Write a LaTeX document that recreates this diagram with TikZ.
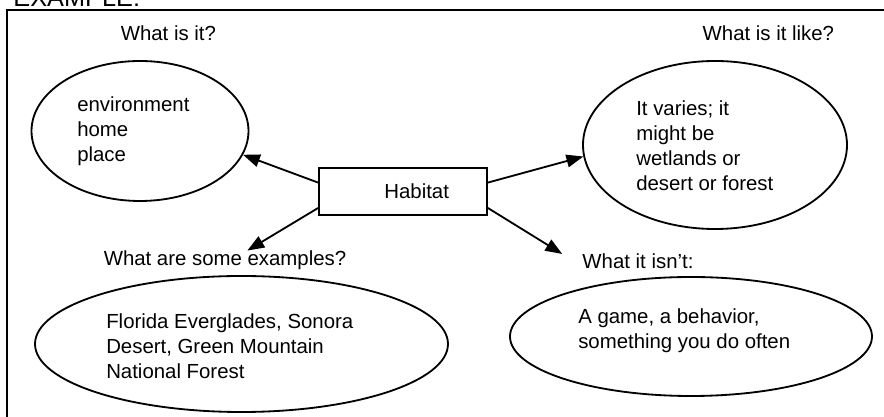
\documentclass[tikz,border=0pt]{standalone}
\usepackage{fontspec}
\setmainfont{Liberation Sans}
\usepackage{tikz}
\usetikzlibrary{shapes.geometric, arrows.meta, positioning}

\begin{document}
\begin{tikzpicture}[
    bubble/.style={draw, ellipse, line width=1.3pt, inner sep=0pt},
    words/.style={inner sep=0pt, align=left, anchor=north west, font=\fontsize{14.5}{17.8}\selectfont},
    question/.style={inner sep=0pt, anchor=base, font=\fontsize{14.5}{17.8}\selectfont},
    link/.style={line width=1.3pt, -{Triangle[length=12pt, width=9pt]}}
]
\useasboundingbox (0,0) rectangle (22.1,10.425);
\draw[line width=1.6pt] (0.18,-0.1) -- (0.18,10.175) -- (22.3,10.175);
\node[anchor=base west, inner sep=0pt, font=\fontsize{18}{20}\selectfont] (title) at (0.33,10.25) {EXAMPLE:};

% the four questions
\node[question] (whatq) at (4.21,9.42) {What is it?};
\node[question] (likeq) at (19.21,9.42) {What is it like?};
\node[question] (exq) at (5.625,3.785) {What are some examples?};
\node[question] (isntq) at (15.95,3.7) {What it isn’t:};

% the bubbles and what is written in them
\node[bubble, minimum width=5.425cm, minimum height=3.5cm] (what) at (3.5,7.15) {};
\node[words] (whattxt) at (1.925,8.02) {environment\\home\\place};
\node[bubble, minimum width=6.6cm, minimum height=4.2cm] (like) at (17.875,6.8) {};
\node[words] (liketxt) at (15.9,7.915) {It varies; it\\might be\\wetlands or\\desert or forest};
\node[bubble, minimum width=10.325cm, minimum height=3.4cm] (ex) at (6.0375,1.825) {};
\node[words] (extxt) at (2.65,2.583) {Florida Everglades, Sonora\\Desert, Green Mountain\\National Forest};
\node[bubble, minimum width=9.05cm, minimum height=2.975cm] (isnt) at (17.275,2.0125) {};
\node[words] (isnttxt) at (14.45,2.7075) {A game, a behavior,\\something you do often};

% centre box
\node[draw, line width=1.3pt, minimum height=1.175cm, text width=2.3cm, inner xsep=0.95cm, align=right, font=\fontsize{14.5}{17.8}\selectfont] (hab) at (10.075,5.6375) {Habitat};

\draw[link] (hab.174) -- (what.-13);
\draw[link] (hab.6) -- (like.185);
\draw[link] (hab.191) -- ([xshift=0.56cm]exq.north);
\draw[link] (hab.349) -- ([xshift=-0.5cm]isntq.north west);
\end{tikzpicture}
\end{document}
